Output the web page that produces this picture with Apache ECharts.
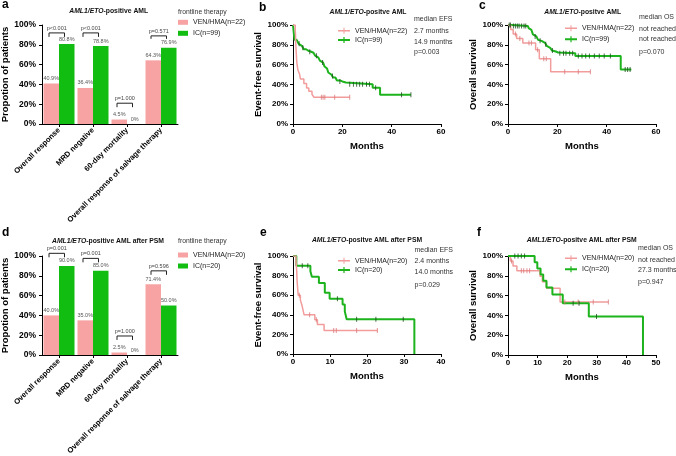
<!DOCTYPE html>
<html><head><meta charset="utf-8">
<script src="https://cdn.jsdelivr.net/npm/echarts@6/dist/echarts.min.js"></script>
<style>html,body{margin:0;padding:0;background:#fff}#c{width:676px;height:456px}</style>
</head><body><div id="c"></div>
<script>
// ---------------- data ----------------
const barCategories = ['Overall response', 'MRD negative', '60-day mortality', 'Overall response of salvage therapy'];
const aVen = [40.9, 36.4, 4.5, 64.3];
const aIc = [80.8, 78.8, 0, 76.9];
const aP = ['p<0.001', 'p<0.001', 'p=1.000', 'p=0.571'];
const aBracketTop = [92, 92, 21, 89];
const aBracketFoot = [88, 88, 17, 86];
const dVen = [40.0, 35.0, 2.5, 71.4];
const dIc = [90.0, 85.0, 0, 50.0];
const dP = ['p=0.001', 'p=0.001', 'p=1.000', 'p=0.596'];
const dBracketTop = [102.7, 97.6, 19.2, 85];
const dBracketFoot = [98.7, 93.6, 15.2, 81];

// b: EFS, whole cohort
const bVenT = [0, 0.9, 1.0, 1.05, 1.1, 1.2, 1.3, 1.4, 1.5, 1.7, 2.0, 2.7, 3.0, 4.4, 5.5, 6.4, 7.7, 8.5, 23];
const bVenS = [100, 95.5, 90.9, 86.4, 81.8, 77.3, 72.7, 68.2, 63.6, 59.1, 54.5, 50.0, 45.5, 40.9, 36.4, 33.0, 30.0, 27.0, 27.0];
const bVenC = [11.5, 12.2, 12.9, 16.9, 23];
const bIcT = [0, 0.6, 1.5, 2.3, 3.0, 3.6, 4.4, 5.3, 6.2, 7.4, 8.3, 9.0, 9.6, 10.3, 10.9, 11.5, 12.2, 12.8, 13.3, 13.8, 14.3, 14.9, 15.5, 16.3, 17.2, 17.8, 19.0, 20.0, 21.4, 32.3, 35.3, 47.8];
const bIcS = [100, 85, 83, 81, 79, 77, 75.5, 74, 73, 72, 71, 69, 67, 65.5, 64, 62, 60, 58, 56, 54, 52, 50, 48.5, 47, 45.5, 44, 43, 42, 40.2, 36.5, 29.5, 29.5];
const bIcC = [2.5, 4, 6.8, 9.5, 12, 16, 19, 23, 24.5, 25.8, 27, 28.2, 29.8, 31, 33.5, 44, 47.8];

// c: OS, whole cohort
const cVenT = [0, 1.1, 2.1, 3.5, 6.0, 11.2, 12.7, 17.3, 33.4];
const cVenS = [100, 95.5, 90.9, 86.4, 81.8, 75.0, 66.0, 52.8, 52.8];
const cVenC = [3, 4.8, 8.5, 9.5, 12, 14.5, 15.5, 23, 28.5, 33.4];
const cIcT = [0, 1.5, 8.0, 8.5, 9.0, 9.5, 10.1, 10.8, 11.5, 12.2, 12.9, 13.6, 14.3, 15.0, 15.7, 16.4, 17.1, 17.8, 18.5, 19.4, 20.3, 27.3, 45.7, 50.0];
const cIcS = [100, 99, 98, 96.5, 95, 93, 90.5, 88.5, 86.5, 85, 84, 83, 82, 80.5, 79, 77, 75.5, 74.2, 73.2, 72.2, 71.4, 68.8, 55, 55];
const cIcC = [0.5, 1, 2.2, 3, 3.8, 4.5, 5.5, 6.5, 7.2, 11, 13, 15.3, 18, 21, 22.5, 23.5, 25, 26.2, 28.5, 30, 31.5, 33, 35, 37, 39, 41.5, 47.5, 48.5, 49.5];

// e: EFS after PSM
const eVenT = [0, 0.8, 0.9, 1.0, 1.05, 1.1, 1.2, 1.3, 1.4, 2.0, 2.4, 2.7, 3.0, 5.9, 6.6, 8.4, 22.8];
const eVenS = [100, 95, 90, 85, 80, 75, 70, 65, 60, 55, 50, 45, 40, 35, 30, 24, 24];
const eVenC = [1.7, 4.5, 6.3, 11, 11.7, 17.2, 22.8];
const eIcT = [0, 0.9, 4.7, 5.1, 7.0, 8.6, 9.9, 13.4, 14.0, 14.5, 32.8];
const eIcS = [100, 90, 84.4, 78.8, 72.5, 62.5, 56.3, 50.5, 43.5, 35.5, 0];
const eIcC = [2.5, 4, 12, 17.2, 22.4, 29.8];

// f: OS after PSM
const fVenT = [0, 0.8, 1.7, 3.0, 10.8, 11.6, 13.0, 17.6, 33.9];
const fVenS = [100, 95, 90, 85, 79.5, 74, 67.5, 53.5, 53.5];
const fVenC = [1.2, 4.5, 5.3, 6.4, 7.3, 19.2, 23.7, 28.8, 33.9];
const fIcT = [0, 9.0, 9.9, 11.0, 11.9, 13.0, 15.0, 18.5, 27.3, 45.6];
const fIcS = [100, 93.8, 87.5, 81.3, 75, 68.2, 61, 52.3, 39, 0];
const fIcC = [2.3, 3.4, 4.5, 5.6, 22, 24, 29.9];

const legendNames = {
  aVen: 'VEN/HMA(n=22)', aIc: 'IC(n=99)', dVen: 'VEN/HMA(n=20)', dIc: 'IC(n=20)',
  bVen: 'VEN/HMA(n=22)', bIc: 'IC(n=99)', cVen: 'VEN/HMA(n=22)', cIc: 'IC(n=99)',
  eVen: 'VEN/HMA(n=20)', eIc: 'IC(n=20)', fVen: 'VEN/HMA(n=20)', fIc: 'IC(n=20)'
};
const bMedian = ['median EFS', '2.7 months', '14.9 months', 'p=0.003'];
const cMedian = ['median OS', 'not reached', 'not reached', 'p=0.070'];
const eMedian = ['median EFS', '2.4 months', '14.0 months', 'p=0.029'];
const fMedian = ['median OS', 'not reached', '27.3 months', 'p=0.947'];

// ---------------- styling ----------------
const FONT = 'Liberation Sans, Arial, Helvetica, sans-serif';
const PINK_BAR = '#F7A3A3', GREEN_BAR = '#12BD12';
const PINK = '#F29C9C', GREEN = '#1DB31D';
const PINK_TICK = '#D97878', GREEN_TICK = '#1E4A1E';

function survAt(T, S, t) {
  let s = S[0];
  for (let i = 0; i < T.length; i++) { if (T[i] <= t) s = S[i]; else break; }
  return s;
}

function kmSeries(name, gi, T, S, C, color, tickColor, width) {
  return [
    { type: 'line', name, xAxisIndex: gi, yAxisIndex: gi, step: 'end', showSymbol: false,
      data: T.map((t, i) => [t, S[i]]), lineStyle: { color, width }, itemStyle: { color },
      animation: false, z: 3, silent: true },
    { type: 'scatter', name: name + '_cens', xAxisIndex: gi, yAxisIndex: gi, silent: true,
      data: C.map(t => [t, survAt(T, S, t)]), symbol: 'rect', symbolSize: [1, 5],
      itemStyle: { color: tickColor }, z: 4, animation: false }
  ];
}

function barSeries(name, gi, vals, color) {
  return { type: 'bar', name, xAxisIndex: gi, yAxisIndex: gi, data: vals, barWidth: 15.5, barGap: '0%',
    itemStyle: { color }, animation: false, silent: true,
    label: { show: true, position: 'top', distance: 2, fontSize: 5.5, color: '#555', fontFamily: FONT,
      formatter: p => (p.value === 0 ? '0%' : p.value.toFixed(1) + '%') } };
}

function bracketSeries(gi, top, foot, labels) {
  return { type: 'custom', xAxisIndex: gi, yAxisIndex: gi, silent: true, clip: false, z: 5, animation: false,
    data: top.map((t, i) => [i, t, foot[i]]), encode: { x: 0, y: [1, 2] },
    renderItem(params, api) {
      const c = api.coord([api.value(0), api.value(1)]);
      const f = api.coord([api.value(0), api.value(2)]);
      const xl = c[0] - 10, xr = c[0] + 5.5;
      return { type: 'group', children: [
        { type: 'polyline', shape: { points: [[xl, f[1]], [xl, c[1]], [xr, c[1]], [xr, f[1]]] },
          style: { stroke: '#222', lineWidth: 1, fill: null } },
        { type: 'text', style: { text: labels[params.dataIndex], x: (xl + xr) / 2, y: c[1] - 1.5,
          align: 'center', verticalAlign: 'bottom', fontSize: 5.5, fill: '#444', fontFamily: FONT } }
      ] };
    } };
}

const axisLineBlack = { show: true, onZero: false, lineStyle: { color: '#000', width: 1 } };
const tickBlack = { show: true, length: 3, lineStyle: { color: '#000', width: 1 } };

function barAxes(gi) {
  return {
    x: { gridIndex: gi, type: 'category', data: barCategories, axisLine: axisLineBlack,
      axisTick: Object.assign({ alignWithLabel: true }, tickBlack),
      axisLabel: { interval: 0, rotate: 45, fontSize: 7.6, fontWeight: 'bold', color: '#000', margin: 5, fontFamily: FONT } },
    y: { gridIndex: gi, type: 'value', min: 0, max: 100, interval: 20, splitLine: { show: false },
      axisLine: axisLineBlack, axisTick: tickBlack,
      axisLabel: { formatter: '{value}%', fontSize: 8.5, fontWeight: 'bold', color: '#000', margin: 6, fontFamily: FONT },
      name: 'Propotion of patients', nameLocation: 'middle', nameGap: 28,
      nameTextStyle: { fontSize: 9.5, fontWeight: 'bold', color: '#000', fontFamily: FONT } }
  };
}

function kmAxes(gi, xmax, xint, yname, ygap) {
  return {
    x: { gridIndex: gi, type: 'value', min: 0, max: xmax, interval: xint, splitLine: { show: false },
      axisLine: axisLineBlack, axisTick: tickBlack,
      axisLabel: { fontSize: 8, fontWeight: 'bold', color: '#000', margin: 4, fontFamily: FONT },
      name: 'Months', nameLocation: 'middle', nameGap: 17,
      nameTextStyle: { fontSize: 9.5, fontWeight: 'bold', color: '#000', fontFamily: FONT } },
    y: { gridIndex: gi, type: 'value', min: 0, max: 100, interval: 20, splitLine: { show: false },
      axisLine: axisLineBlack, axisTick: tickBlack,
      axisLabel: { formatter: '{value}%', fontSize: 8, fontWeight: 'bold', color: '#000', margin: 5, fontFamily: FONT },
      name: yname, nameLocation: 'middle', nameGap: ygap,
      nameTextStyle: { fontSize: 9.5, fontWeight: 'bold', color: '#000', fontFamily: FONT } }
  };
}

const axA = barAxes(0), axB = kmAxes(1, 60, 20, 'Event-free survival', 24), axC = kmAxes(2, 60, 20, 'Overall survival', 23);
const axD = barAxes(3), axE = kmAxes(4, 40, 10, 'Event-free survival', 24), axF = kmAxes(5, 50, 10, 'Overall survival', 23);

function txt(x, y, text, size, extra) {
  return { type: 'text', x: 0, y: 0, silent: true,
    style: Object.assign({ text, x, y, fontSize: size, fontFamily: FONT, fill: '#222', align: 'left', verticalAlign: 'middle' }, extra || {}) };
}
function title(cx, cy, rest) {
  return { type: 'text', silent: true, style: { text: '{i|AML1/ETO}{n|' + rest + '}', x: cx, y: cy, align: 'center', verticalAlign: 'middle',
    rich: { i: { fontStyle: 'italic', fontWeight: 'bold', fontSize: 6.8, fontFamily: FONT, fill: '#111' },
            n: { fontWeight: 'bold', fontSize: 6.8, fontFamily: FONT, fill: '#111' } } } };
}
function medianBlock(x, ys, lines) {
  return lines.map((l, i) => txt(x, ys[i], l, 7, { fill: '#333' }));
}
function kmLegend(left, top, gap, ven, ic) {
  return { left, top, orient: 'vertical', itemGap: gap, itemWidth: 12, itemHeight: 7, padding: 0,
    formatter: n => legendNames[n],
    textStyle: { fontSize: 7, color: '#222', fontFamily: FONT, lineHeight: 8 },
    data: [ { name: ven, icon: 'path://M0,2.8H12V4.2H0Z M5.5,0.5H6.5V6.5H5.5Z' },
            { name: ic, icon: 'path://M0,2.5H12V4.5H0Z M5.4,0.5H6.6V6.5H5.4Z' } ] };
}
function barLegend(top, ven, ic) {
  return { left: 178, top, orient: 'vertical', itemGap: 3, itemWidth: 10, itemHeight: 5, padding: 0, icon: 'rect',
    formatter: n => legendNames[n],
    textStyle: { fontSize: 7, color: '#222', fontFamily: FONT, lineHeight: 8 },
    data: [ven, ic] };
}

const G = { outerBoundsMode: 'none', containLabel: false };
const option = {
  backgroundColor: '#fff',
  animation: false,
  textStyle: { fontFamily: FONT },
  grid: [
    Object.assign({ left: 42, top: 25, width: 136, height: 99 }, G),
    Object.assign({ left: 293, top: 25, width: 148, height: 99 }, G),
    Object.assign({ left: 508, top: 25, width: 148, height: 99 }, G),
    Object.assign({ left: 42, top: 256, width: 136, height: 99 }, G),
    Object.assign({ left: 293, top: 256, width: 148, height: 98 }, G),
    Object.assign({ left: 508, top: 256, width: 148, height: 99 }, G)
  ],
  xAxis: [axA.x, axB.x, axC.x, axD.x, axE.x, axF.x],
  yAxis: [axA.y, axB.y, axC.y, axD.y, axE.y, axF.y],
  legend: [
    barLegend(18.3, 'aVen', 'aIc'),
    barLegend(251, 'dVen', 'dIc'),
    kmLegend(338, 26.7, 1.3, 'bVen', 'bIc'),
    kmLegend(565, 24.3, 3, 'cVen', 'cIc'),
    kmLegend(338, 256.7, 1.3, 'eVen', 'eIc'),
    kmLegend(565, 254.3, 3, 'fVen', 'fIc')
  ],
  series: [
    barSeries('aVen', 0, aVen, PINK_BAR), barSeries('aIc', 0, aIc, GREEN_BAR), bracketSeries(0, aBracketTop, aBracketFoot, aP),
    barSeries('dVen', 3, dVen, PINK_BAR), barSeries('dIc', 3, dIc, GREEN_BAR), bracketSeries(3, dBracketTop, dBracketFoot, dP),
    ...kmSeries('bIc', 1, bIcT, bIcS, bIcC, GREEN, GREEN_TICK, 2),
    ...kmSeries('bVen', 1, bVenT, bVenS, bVenC, PINK, PINK_TICK, 1.5),
    ...kmSeries('cIc', 2, cIcT, cIcS, cIcC, GREEN, GREEN_TICK, 2),
    ...kmSeries('cVen', 2, cVenT, cVenS, cVenC, PINK, PINK_TICK, 1.5),
    ...kmSeries('eIc', 4, eIcT, eIcS, eIcC, GREEN, GREEN_TICK, 2),
    ...kmSeries('eVen', 4, eVenT, eVenS, eVenC, PINK, PINK_TICK, 1.5),
    ...kmSeries('fVen', 5, fVenT, fVenS, fVenC, PINK, PINK_TICK, 1.5),
    ...kmSeries('fIc', 5, fIcT, fIcS, fIcC, GREEN, GREEN_TICK, 2)
  ],
  graphic: [
    txt(2, 4.2, 'a', 12, { fontWeight: 'bold', fill: '#000' }),
    txt(259, 7.5, 'b', 12, { fontWeight: 'bold', fill: '#000' }),
    txt(479, 5.8, 'c', 12, { fontWeight: 'bold', fill: '#000' }),
    txt(2, 232.5, 'd', 12, { fontWeight: 'bold', fill: '#000' }),
    txt(260, 232.5, 'e', 12, { fontWeight: 'bold', fill: '#000' }),
    txt(477, 232.5, 'f', 12, { fontWeight: 'bold', fill: '#000' }),
    title(108.7, 10.7, '-positive AML'),
    title(368, 11.7, '-positve AML'),
    title(582.7, 12.3, '-positve AML'),
    title(108, 240.7, '-positive AML after PSM'),
    title(367, 240, '-positve AML after PSM'),
    title(581.7, 240, '-positve AML after PSM'),
    txt(178, 11.7, 'frontline therapy', 6.8, { fill: '#333' }),
    txt(178, 241, 'frontline therapy', 6.8, { fill: '#333' }),
    ...medianBlock(414, [19, 31, 41.7, 52.3], bMedian),
    ...medianBlock(639, [16.7, 29, 39.3, 51.7], cMedian),
    ...medianBlock(414.5, [250, 261, 271.7, 285], eMedian),
    ...medianBlock(638, [248.3, 260, 270, 281.7], fMedian)
  ]
};

const chart = echarts.init(document.getElementById('c'), null, { renderer: 'canvas' });
chart.setOption(option);
</script>
</body></html>
